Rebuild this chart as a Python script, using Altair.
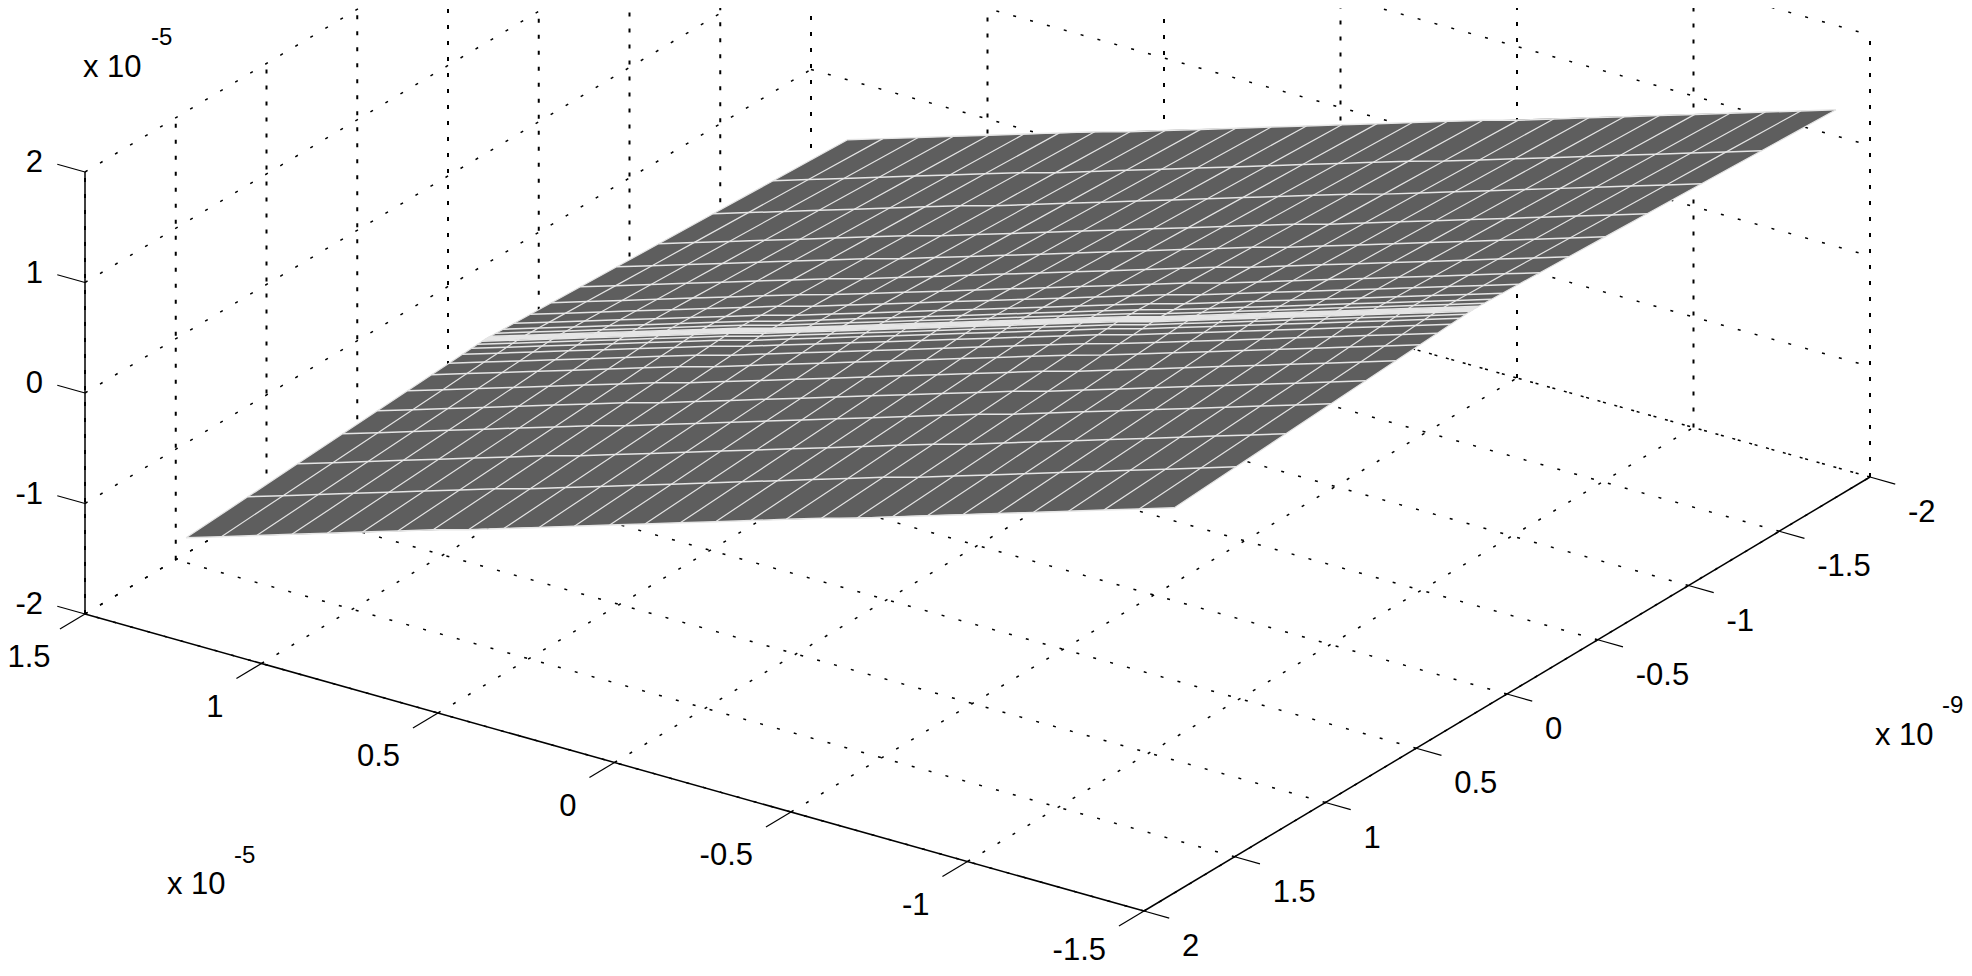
import numpy as np
import pandas as pd
import altair as alt

# Axis ticks (x and z in units of 1e-5, y in units of 1e-9)
x_ticks = [1.5, 1, 0.5, 0, -0.5, -1, -1.5]
x_tick_labels = ["1.5", "1", "0.5", "0", "-0.5", "-1", "-1.5"]
y_ticks = [2, 1.5, 1, 0.5, 0, -0.5, -1, -1.5, -2]
y_tick_labels = ["2", "1.5", "1", "0.5", "0", "-0.5", "-1", "-1.5", "-2"]
z_ticks = [2, 1, 0, -1, -2]
z_tick_labels = ["2", "1", "0", "-1", "-2"]

# Surface mesh
x_vals = [1.33, 1.23, 1.13, 1.03, 0.93, 0.83, 0.73, 0.63, 0.53, 0.43, 0.33, 0.23, 0.13, 0.03,
          -0.07, -0.17, -0.27, -0.37, -0.47, -0.57, -0.67, -0.77, -0.87, -0.97, -1.07, -1.17,
          -1.27, -1.37, -1.47]
z_vals = [-1.38, -1.28, -1.18, -1.08, -0.98, -0.88, -0.78, -0.68, -0.59, -0.49, -0.39, -0.29,
          -0.19, -0.09, 0.01, 0.11, 0.21, 0.31, 0.41, 0.50, 0.60, 0.70, 0.80, 0.90, 1.00,
          1.10, 1.20, 1.30, 1.40]
y_vals = [1.774, 1.434, 1.160, 0.911, 0.720, 0.554, 0.421, 0.325, 0.251, 0.201, 0.168, 0.143,
          0.134, 0.128, 0.122, 0.115, 0.108,
          0.097, 0.067, 0.027, -0.033, -0.123, -0.239, -0.399, -0.599, -0.830, -1.130,
          -1.461, -1.871]
# Rise of the surface along y, peaking on the crease
z_rise = [0.0, 0.037, 0.067, 0.094, 0.114, 0.132, 0.147, 0.157, 0.165, 0.170, 0.174, 0.177,
          0.178, 0.179, 0.179, 0.179, 0.178,
          0.177, 0.175, 0.172, 0.167, 0.160, 0.151, 0.138, 0.122, 0.104, 0.081,
          0.055, 0.023]

# Oblique view of the 3-D box onto the picture
ORIGIN = (977.5, 324.5)
EX = (-353.0, -99.0)
EY = (-181.5, 108.5)
EZ = (0.0, -110.5)


def view(x, y, z):
    return (ORIGIN[0] + EX[0] * x + EY[0] * y + EZ[0] * z,
            ORIGIN[1] + EX[1] * x + EY[1] * y + EZ[1] * z)


X_SCALE = alt.Scale(domain=[8, 1964], nice=False, zero=False)
Y_SCALE = alt.Scale(domain=[968, 8], nice=False, zero=False)
PX = alt.X("px:Q", scale=X_SCALE, axis=None)
PY = alt.Y("py:Q", scale=Y_SCALE, axis=None)


def segments(items):
    rows = []
    for i, pts in enumerate(items):
        for j, p in enumerate(pts):
            px, py = view(*p)
            rows.append({"seg": i, "ord": j, "px": px, "py": py})
    return pd.DataFrame(rows)


def line_layer(items, **mark):
    return alt.Chart(segments(items)).mark_line(clip=True, **mark).encode(
        x=PX, y=PY, detail="seg:N", order="ord:Q")


XL, XH, YL, YH, ZL, ZH = -1.5, 1.5, -2, 2, -2, 2

# Dotted grid on the floor and the two back walls
slanted = []
slanted += [[(x, YH, ZL), (x, YL, ZL)] for x in x_ticks]
slanted += [[(XL, y, ZL), (XH, y, ZL)] for y in y_ticks]
slanted += [[(XH, YH, z), (XH, YL, z)] for z in z_ticks]
slanted += [[(XH, YL, z), (XL, YL, z)] for z in z_ticks]
verticals = [[(XH, y, ZL), (XH, y, ZH)] for y in y_ticks]
verticals += [[(x, YL, ZL), (x, YL, ZH)] for x in x_ticks]

grid_slant = line_layer(slanted, color="black", strokeWidth=1.5, strokeDash=[3, 14.5])
grid_vert = line_layer(verticals, color="black", strokeWidth=2, strokeDash=[4, 12])

# Solid axes and ticks
axes = [[(XH, YH, ZL), (XL, YH, ZL)], [(XL, YH, ZL), (XL, YL, ZL)], [(XH, YH, ZL), (XH, YH, ZH)]]
ticks = [[(x, YH, ZL), (x, YH + 0.138, ZL)] for x in x_ticks]
ticks += [[(XL, y, ZL), (XL - 0.0715, y, ZL)] for y in y_ticks]
ticks += [[(XH, YH, z), (XH + 0.0785, YH, z)] for z in z_ticks]
axis_lines = line_layer(axes, color="black", strokeWidth=1.5)
tick_lines = line_layer(ticks, color="black", strokeWidth=1.2)

# Surface fill: outline from the two side edges of the mesh
left_edge = [view(x_vals[0], y, z_vals[0] + r) for y, r in zip(y_vals, z_rise)]
right_edge = [view(x_vals[-1], y, z_vals[-1] + r) for y, r in zip(y_vals, z_rise)]
upper = left_edge + [right_edge[-1]]
lower = [left_edge[0]] + right_edge
knots = sorted({p[0] for p in upper} | {p[0] for p in lower})
surface_df = pd.DataFrame({
    "px": knots,
    "py": np.interp(knots, [p[0] for p in upper], [p[1] for p in upper]),
    "py2": np.interp(knots, [p[0] for p in lower], [p[1] for p in lower]),
})
surface = alt.Chart(surface_df).mark_area(color="#5e5e5e", opacity=1, clip=True).encode(
    x=PX, y=PY, y2="py2:Q")

# White mesh edges
mesh_x = [[(x, y, z + r) for y, r in zip(y_vals, z_rise)] for x, z in zip(x_vals, z_vals)]
mesh_y = [[(x, y, z + r) for x, z in zip(x_vals, z_vals)] for y, r in zip(y_vals, z_rise)]
mesh_diag = line_layer(mesh_x, color="#e4e4e4", strokeWidth=1.2)
mesh_flat = line_layer(mesh_y, color="#e6e6e6", strokeWidth=1.5)


def text_layer(rows, size, align):
    df = pd.DataFrame(rows, columns=["px", "py", "label"])
    return alt.Chart(df).mark_text(
        font="Liberation Sans", fontSize=size, align=align, baseline="alphabetic", color="black"
    ).encode(x=PX, y=PY, text="label:N")


x_rows = []
for v, s in zip(x_ticks, x_tick_labels):
    p = view(v, YH, ZL)
    x_rows.append((max(p[0] - 38, 50.5), min(p[1] + 53, 960), s))
y_rows = []
for v, s in zip(y_ticks, y_tick_labels):
    p = view(XL, v, ZL)
    y_rows.append((p[0] + 38, p[1] + 45, s))
z_rows = []
for v, s in zip(z_ticks, z_tick_labels):
    p = view(XH, YH, v)
    z_rows.append((p[0] - 42, p[1], s))

labels_right = text_layer(x_rows + z_rows, 31, "right")
labels_left = text_layer(y_rows, 31, "left")

# Exponent captions
mult_big = text_layer([(83, 77, "x 10"), (167, 894, "x 10"), (1875, 745, "x 10")], 31, "left")
mult_small = text_layer([(151, 45, "-5"), (234, 863, "-5"), (1942, 713, "-9")], 24, "left")

chart = alt.layer(
    grid_slant, grid_vert, surface, mesh_diag, mesh_flat, axis_lines, tick_lines,
    labels_right, labels_left, mult_big, mult_small,
).properties(
    width=1956, height=960, padding=0, autosize=alt.AutoSizeParams(type="none"),
    background="white",
).configure_view(stroke=None)

chart.save("out.html", embed_options={"renderer": "svg", "actions": False})
